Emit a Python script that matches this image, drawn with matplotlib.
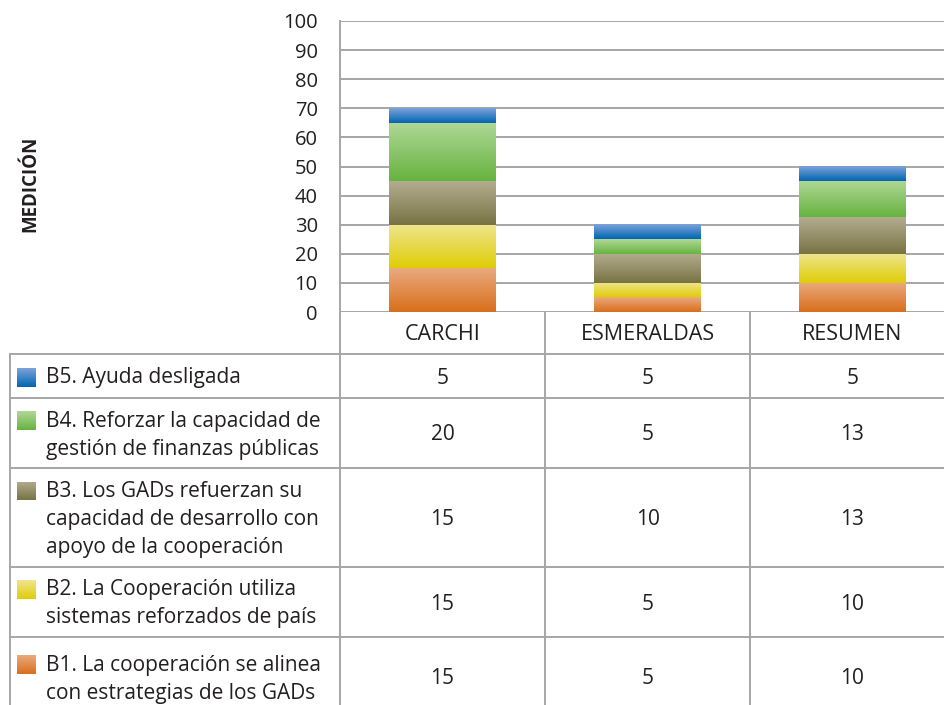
import matplotlib
matplotlib.use("Agg")
import matplotlib.pyplot as plt
import numpy as np
from matplotlib.colors import LinearSegmentedColormap
from matplotlib.lines import Line2D
from matplotlib.transforms import blended_transform_factory

# ---------------- data ----------------
categories = ["CARCHI", "ESMERALDAS", "RESUMEN"]
series_labels = [
    "B1. La cooperación se alinea\ncon estrategias de los GADs",
    "B2. La Cooperación utiliza\nsistemas reforzados de país",
    "B3. Los GADs refuerzan su\ncapacidad de desarrollo con\napoyo de la cooperación",
    "B4. Reforzar la capacidad de\ngestión de finanzas públicas",
    "B5. Ayuda desligada",
]
b1 = [15, 5, 10]
b2 = [15, 5, 10]
b3 = [15, 10, 12.5]
b4 = [20, 5, 12.5]
b5 = [5, 5, 5]
series_values = [b1, b2, b3, b4, b5]
y_ticks = list(range(0, 101, 10))
y_label = "MEDICIÓN"

# gradient colours (top, bottom) per series
grad_colors = [
    ("#eaaa7e", "#d86f1c"),
    ("#efe590", "#dfcd05"),
    ("#b3ad90", "#787343"),
    ("#b0d897", "#67b33f"),
    ("#7ea3da", "#0065b2"),
]

FONT = ["Open Sans", "DejaVu Sans"]
plt.rcParams["font.family"] = FONT
TXT = "#231f20"
GRID = "#a6a6a6"
FS = 15

W, H = 944, 705
fig = plt.figure(figsize=(W / 100, H / 100), dpi=100)

def fx(px):
    return px / W

def fy(py):
    return 1 - py / H

ax_left, ax_right, ax_top, ax_bot = 340, 955, 21, 312
ax = fig.add_axes([fx(ax_left), fy(ax_bot), fx(ax_right - ax_left), (ax_bot - ax_top) / H])

x = np.arange(len(categories))
bottom = np.zeros(len(categories))
for vals, (ctop, cbot) in zip(series_values, grad_colors):
    bars = ax.bar(x, vals, width=0.52, bottom=bottom, facecolor="none", edgecolor="none", zorder=3)
    cmap = LinearSegmentedColormap.from_list("g", [cbot, ctop])
    grad = np.linspace(0, 1, 256).reshape(-1, 1)
    for r in bars:
        bx, by, bw, bh = r.get_x(), r.get_y(), r.get_width(), r.get_height()
        ax.imshow(grad, cmap=cmap, origin="lower", aspect="auto",
                  extent=[bx, bx + bw, by, by + bh], zorder=3, interpolation="bilinear")
    bottom += np.array(vals)

ax.set_xlim(-0.5, len(categories) - 0.5)
ax.set_ylim(0, 100)
ax.set_yticks(y_ticks)
ax.yaxis.grid(True, color=GRID, linewidth=1.4, zorder=0)
ax.set_axisbelow(True)
ax.tick_params(axis="y", length=0, pad=16, labelsize=14.5, labelcolor=TXT)
ax.tick_params(axis="x", length=0, labelbottom=False)
for s in ["top", "right", "bottom"]:
    ax.spines[s].set_visible(False)
ax.spines["left"].set_color(GRID)
ax.spines["left"].set_linewidth(1.4)

fig.text(fx(30), fy(184), y_label, rotation=90, ha="center", va="center",
         fontsize=13.5, fontweight="bold", color=TXT)

# ---------------- data table ----------------
trans = blended_transform_factory(ax.transData, fig.transFigure)
row_edges_px = [354, 398, 468, 567, 637, 720]   # B5, B4, B3, B2, B1
header_top, header_bot = 312, 354
lw = 1.4
dy = 2  # small downward text offset

for b in np.arange(len(categories) + 1) - 0.5:
    fig.add_artist(Line2D([b, b], [fy(header_top), fy(720)], transform=trans,
                          color=GRID, linewidth=lw, clip_on=False))
fig.add_artist(Line2D([fx(10), fx(10)], [fy(354), fy(720)], color=GRID, linewidth=lw))
for py in row_edges_px:
    fig.add_artist(Line2D([fx(10), fx(960)], [fy(py), fy(py)], color=GRID, linewidth=lw))

for xi, cat in zip(x, categories):
    fig.text(xi, fy((header_top + header_bot) / 2 + dy), cat, transform=trans,
             ha="center", va="center", fontsize=15.5, color=TXT)

def fmt(v):
    return str(int(np.floor(v + 0.5)))

order = list(range(len(series_values)))[::-1]
line_h = 28
for ri, si in enumerate(order):
    top, bot = row_edges_px[ri], row_edges_px[ri + 1]
    if bot > H:
        bot = 717
    cy = (top + bot) / 2
    label = series_labels[si]
    nlines = label.count("\n") + 1
    first_y = cy - (nlines - 1) * line_h / 2
    for li, line in enumerate(label.split("\n")):
        fig.text(fx(46), fy(first_y + li * line_h + dy), line, ha="left", va="center",
                 fontsize=FS, color=TXT)
    ctop, cbot = grad_colors[si]
    kax = fig.add_axes([fx(17), fy(first_y + 9 + dy), fx(19), 19 / H])
    kax.imshow(np.linspace(0, 1, 64).reshape(-1, 1), origin="lower", aspect="auto",
               cmap=LinearSegmentedColormap.from_list("k", [cbot, ctop]))
    kax.set_axis_off()
    for xi, v in zip(x, series_values[si]):
        fig.text(xi, fy(cy + dy), fmt(v), transform=trans, ha="center", va="center",
                 fontsize=FS, color=TXT)

fig.savefig("out.png", dpi=100)
